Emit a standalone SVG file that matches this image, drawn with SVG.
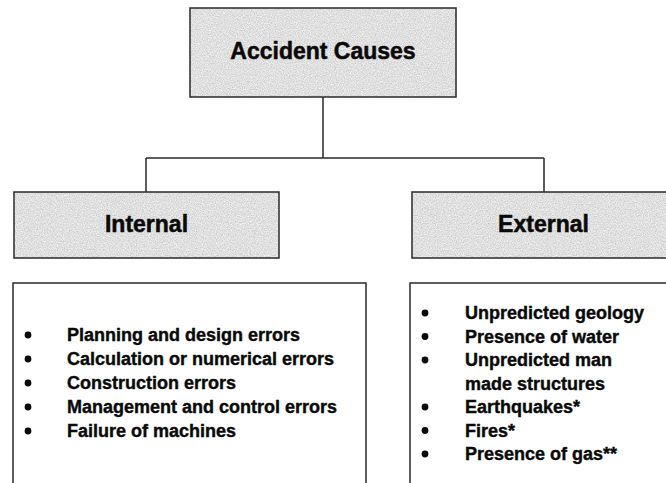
<svg xmlns="http://www.w3.org/2000/svg" width="666" height="483" viewBox="0 0 666 483">
  <style>
    .hdr { stroke: #2a2a2a; stroke-width: 1.5; }
    .hdrfill { fill: #bcbcbc; filter: url(#grain); }
    .list { fill: #ffffff; stroke: #2a2a2a; stroke-width: 1.5; }
    .title { font-family: "Liberation Sans", Arial, sans-serif; font-weight: bold; font-size: 23px; fill: #0a0a0a; stroke: #0a0a0a; stroke-width: 0.5; text-anchor: middle; }
    .item { font-family: "Liberation Sans", Arial, sans-serif; font-weight: bold; font-size: 18px; fill: #0a0a0a; stroke: #0a0a0a; stroke-width: 0.4; }
    .bullet { fill: #0a0a0a; }
    .wire { fill: none; stroke: #2a2a2a; stroke-width: 1.5; }
  </style>
  <defs>
    <!-- speckled grey fill used for the header boxes -->
    <filter id="grain" x="0" y="0" width="100%" height="100%">
      <feTurbulence type="fractalNoise" baseFrequency="0.85" numOctaves="2" seed="7" result="noise"/>
      <feColorMatrix in="noise" type="matrix" values="0.55 0 0 0 0.47  0.55 0 0 0 0.47  0.55 0 0 0 0.47  0 0 0 0 1" result="grey"/>
      <feComposite in="grey" in2="SourceGraphic" operator="in"/>
    </filter>
  </defs>

  <rect width="666" height="483" fill="#ffffff"/>

  <!-- connectors -->
  <g id="connectors">
    <path class="wire" d="M323 97 V158 M146 158 H544 M146 158 V192 M544 158 V192"/>
  </g>

  <!-- root -->
  <g id="accident-causes">
    <rect class="hdrfill" x="190" y="8" width="266" height="89"/>
    <rect class="hdr" fill="none" x="190" y="8" width="266" height="89"/>
    <text class="title" x="323" y="59">Accident Causes</text>
  </g>

  <!-- internal branch -->
  <g id="internal">
    <rect class="hdrfill" x="14" y="192" width="265" height="66"/>
    <rect class="hdr" fill="none" x="14" y="192" width="265" height="66"/>
    <text class="title" x="146.5" y="232">Internal</text>
  </g>

  <g id="internal-list">
    <rect class="list" x="13" y="283" width="353" height="210"/>
    <g class="bullet">
      <circle cx="28" cy="335" r="3.4"/>
      <circle cx="28" cy="359" r="3.4"/>
      <circle cx="28" cy="383" r="3.4"/>
      <circle cx="28" cy="407" r="3.4"/>
      <circle cx="28" cy="431" r="3.4"/>
    </g>
    <text class="item" x="67" y="341">Planning and design errors</text>
    <text class="item" x="67" y="365">Calculation or numerical errors</text>
    <text class="item" x="67" y="389">Construction errors</text>
    <text class="item" x="67" y="413">Management and control errors</text>
    <text class="item" x="67" y="437">Failure of machines</text>
  </g>

  <!-- external branch -->
  <g id="external">
    <rect class="hdrfill" x="412" y="192" width="270" height="66"/>
    <rect class="hdr" fill="none" x="412" y="192" width="270" height="66"/>
    <text class="title" x="543.5" y="232">External</text>
  </g>

  <g id="external-list">
    <rect class="list" x="410" y="283" width="270" height="210"/>
    <g class="bullet">
      <circle cx="425" cy="313" r="3.4"/>
      <circle cx="425" cy="336.5" r="3.4"/>
      <circle cx="425" cy="360" r="3.4"/>
      <circle cx="425" cy="407" r="3.4"/>
      <circle cx="425" cy="430.5" r="3.4"/>
      <circle cx="425" cy="454" r="3.4"/>
    </g>
    <text class="item" x="465" y="319">Unpredicted geology</text>
    <text class="item" x="465" y="342.5">Presence of water</text>
    <text class="item" x="465" y="366">Unpredicted man</text>
    <text class="item" x="465" y="389.5">made structures</text>
    <text class="item" x="465" y="413">Earthquakes*</text>
    <text class="item" x="465" y="436.5">Fires*</text>
    <text class="item" x="465" y="460">Presence of gas**</text>
  </g>
</svg>
